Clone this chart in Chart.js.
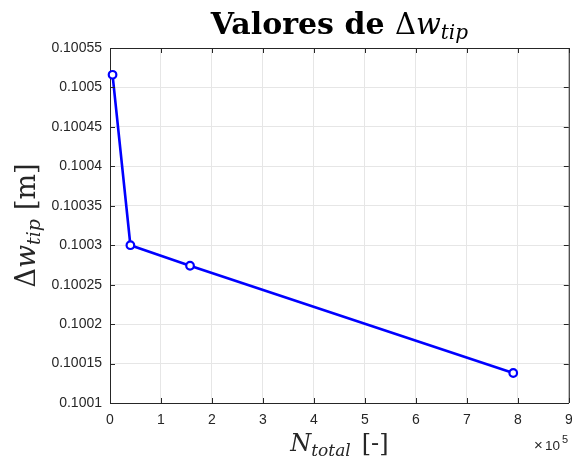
<!DOCTYPE html>
<html>
<head>
<meta charset="utf-8">
<script src="https://cdn.jsdelivr.net/npm/chart.js@4.4.1/dist/chart.umd.min.js"></script>
<style>
  html, body { margin: 0; padding: 0; background: #fff; overflow: hidden; }
  #frame { width: 572px; height: 463px; overflow: hidden; }
</style>
</head>
<body>
<div id="frame"><canvas id="plot" width="575" height="463"></canvas></div>
<script>
// mesh size (total elements) vs. tip deflection
const nTotal   = [0.05e5, 0.40e5, 1.57e5, 7.91e5];
const deltaTip = [0.100516, 0.100300, 0.100274, 0.100138];

// tick positions (x in units of 1e5)
const xTicks = [0, 1, 2, 3, 4, 5, 6, 7, 8, 9];
const yTicks = [0.1001, 0.10015, 0.1002, 0.10025, 0.1003, 0.10035, 0.1004, 0.10045, 0.1005, 0.10055];

const AXIS = '#262626';
const SERIF = '"DejaVu Serif", "Liberation Serif", serif';
const SANS = '"Liberation Sans", Arial, sans-serif';

// draw a row of text pieces with different fonts, centred on x
function drawRuns(ctx, runs, x, y) {
    let total = 0;
    runs.forEach(r => { ctx.font = r.f; total += ctx.measureText(r.t).width + (r.gap || 0); });
    let cx = x - total / 2;
    runs.forEach(r => {
        ctx.font = r.f;
        ctx.fillText(r.t, cx, y + (r.dy || 0));
        cx += ctx.measureText(r.t).width + (r.gap || 0);
    });
}

const matlabFrame = {
    id: 'matlabFrame',
    afterDraw(chart) {
        const { ctx, chartArea: a, scales } = chart;
        ctx.save();
        ctx.strokeStyle = AXIS;
        ctx.lineWidth = 1;

        // box on top and right
        ctx.beginPath();
        ctx.moveTo(a.left, a.top + 0.5);
        ctx.lineTo(a.right + 0.5, a.top + 0.5);
        ctx.lineTo(a.right + 0.5, a.bottom);
        ctx.stroke();

        // inward ticks on all four sides
        const len = 5;
        ctx.beginPath();
        xTicks.forEach(t => {
            const px = Math.round(scales.x.getPixelForValue(t * 1e5)) + 0.5;
            ctx.moveTo(px, a.bottom); ctx.lineTo(px, a.bottom - len);
            ctx.moveTo(px, a.top); ctx.lineTo(px, a.top + len);
        });
        yTicks.forEach(t => {
            const py = Math.round(scales.y.getPixelForValue(t)) + 0.5;
            ctx.moveTo(a.left, py); ctx.lineTo(a.left + len, py);
            ctx.moveTo(a.right, py); ctx.lineTo(a.right - len, py);
        });
        ctx.stroke();

        ctx.fillStyle = '#000';
        ctx.textBaseline = 'alphabetic';
        const midX = (a.left + a.right) / 2;
        const midY = (a.top + a.bottom) / 2;

        // title
        drawRuns(ctx, [
            { t: 'Valores de ', f: `bold 30px ${SERIF}` },
            { t: '\u0394', f: `29px ${SERIF}` },
            { t: 'w', f: `italic 29px ${SERIF}` },
            { t: 'tip', f: `italic 20px ${SERIF}`, dy: 5 }
        ], midX, 34);

        // x axis title
        ctx.fillStyle = AXIS;
        drawRuns(ctx, [
            { t: 'N', f: `italic 24px ${SERIF}` },
            { t: 'total', f: `italic 17px ${SERIF}`, dy: 5, gap: 11 },
            { t: '[-]', f: `24px ${SERIF}` }
        ], midX, 451);

        // y axis title
        ctx.save();
        ctx.translate(35, midY);
        ctx.rotate(-Math.PI / 2);
        drawRuns(ctx, [
            { t: '\u0394', f: `27px ${SERIF}` },
            { t: 'w', f: `italic 27px ${SERIF}` },
            { t: 'tip', f: `italic 19px ${SERIF}`, dy: 5, gap: 9 },
            { t: '[m]', f: `27px ${SERIF}` }
        ], 0, 0);
        ctx.restore();

        // exponent marker
        ctx.textAlign = 'left';
        ctx.font = `15px ${SANS}`;
        ctx.fillText('\u00d7', 534, 450);
        ctx.font = `13.5px ${SANS}`;
        ctx.fillText('10', 545, 450);
        ctx.font = `11px ${SANS}`;
        ctx.fillText('5', 562, 443);

        ctx.restore();
    }
};

new Chart(document.getElementById('plot'), {
    type: 'scatter',
    data: {
        datasets: [{
            data: nTotal.map((n, i) => ({ x: n, y: deltaTip[i] })),
            showLine: true,
            borderColor: '#0000ff',
            borderWidth: 2.6,
            pointRadius: 3.8,
            pointBorderWidth: 2.2,
            pointBorderColor: '#0000ff',
            pointBackgroundColor: '#ffffff',
            clip: false
        }]
    },
    options: {
        responsive: false,
        animation: false,
        devicePixelRatio: 1,
        layout: { padding: { top: 48, right: 0, left: 0, bottom: 0 } },
        plugins: { legend: { display: false }, tooltip: { enabled: false }, title: { display: false } },
        scales: {
            x: {
                type: 'linear',
                min: 0,
                max: 9e5,
                afterBuildTicks: s => { s.ticks = xTicks.map(v => ({ value: v * 1e5 })); },
                afterFit: s => { s.height = 60; s.paddingRight = 0; },
                grid: { color: '#e6e6e6', lineWidth: 1, drawTicks: false },
                border: { color: AXIS, width: 1 },
                ticks: {
                    color: AXIS,
                    padding: 9,
                    maxRotation: 0,
                    font: { family: SANS, size: 14 },
                    callback: v => String(Math.round(v / 1e5))
                }
            },
            y: {
                type: 'linear',
                min: yTicks[0],
                max: yTicks[yTicks.length - 1],
                afterBuildTicks: s => { s.ticks = yTicks.map(v => ({ value: v })); },
                afterFit: s => { s.width = 110; },
                grid: { color: '#e6e6e6', lineWidth: 1, drawTicks: false },
                border: { color: AXIS, width: 1 },
                ticks: {
                    color: AXIS,
                    padding: 8,
                    font: { family: SANS, size: 14 },
                    callback: v => String(+v.toFixed(5))
                }
            }
        }
    },
    plugins: [matlabFrame]
});
</script>
</body>
</html>
